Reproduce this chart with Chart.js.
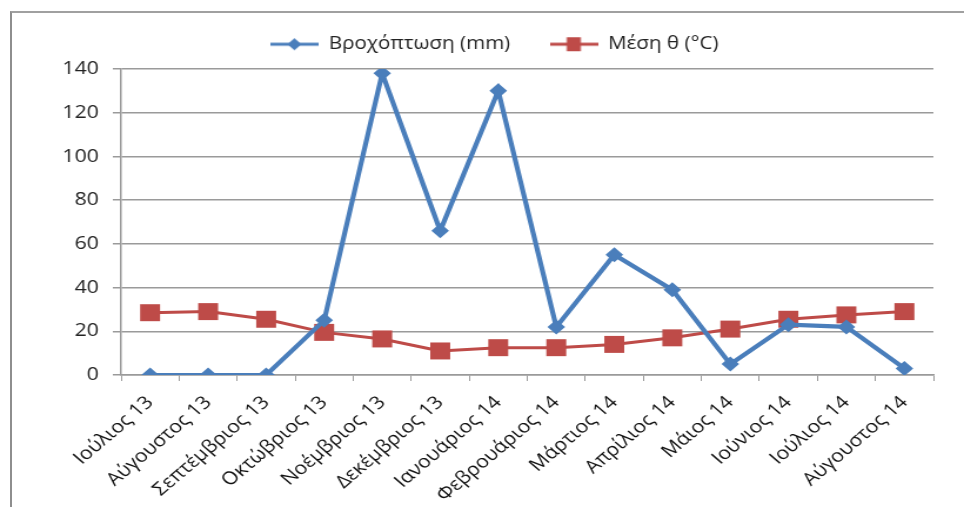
<!DOCTYPE html>
<html>
<head>
<meta charset="utf-8">
<script src="https://cdn.jsdelivr.net/npm/chart.js@4.4.1/dist/chart.umd.min.js"></script>
<style>
  html, body { margin: 0; padding: 0; background: #fff; overflow: hidden; }
  #wrap { position: relative; width: 964px; height: 507px; overflow: hidden; }
  #frame { position: absolute; left: 10px; top: 11px; width: 970px; height: 520px;
           border-left: 2px solid #8e8e8e; border-top: 2px solid #a0a0a0; }
  /* the original picture is stretched sideways, so the canvas is too */
  #stretch { position: absolute; left: 0; top: 0; width: 820px; height: 507px;
             transform: scaleX(1.1756); transform-origin: 0 0; }
</style>
</head>
<body>
<div id="wrap">
  <div id="frame"></div>
  <div id="stretch"><canvas id="chart" width="820" height="507"></canvas></div>
</div>
<script>
// Μήνες (κατηγορίες)
const months = ['Ιούλιος 13', 'Αύγουστος 13', 'Σεπτέμβριος 13', 'Οκτώβριος 13', 'Νοέμβριος 13',
  'Δεκέμβριος 13', 'Ιανουάριος 14', 'Φεβρουάριος 14', 'Μάρτιος 14', 'Απρίλιος 14',
  'Μάιος 14', 'Ιούνιος 14', 'Ιούλιος 14', 'Αύγουστος 14'];

// Βροχόπτωση (mm)
const rain = [0, 0, 0, 25, 138, 66, 130, 22, 55, 39, 5, 23, 22, 3];

// Μέση θερμοκρασία (°C)
const temp = [28.5, 29, 25.5, 19.5, 16.5, 11, 12.5, 12.5, 14, 17, 21, 25.5, 27.5, 29];

// άξονας y
const yTicks = [0, 20, 40, 60, 80, 100, 120, 140];

const blue = '#4a7ebb';
const red = '#be4b48';
const font = "'Open Sans', 'DejaVu Sans', sans-serif";

// μικρό εικονίδιο υπομνήματος: γραμμή με σημάδι στη μέση
function legendIcon(color, shape) {
    const c = document.createElement('canvas');
    c.width = 41; c.height = 16;
    const g = c.getContext('2d');
    g.strokeStyle = color;
    g.lineWidth = 3;
    g.beginPath(); g.moveTo(0, 8); g.lineTo(41, 8); g.stroke();
    g.fillStyle = color;
    g.beginPath();
    if (shape === 'diamond') {
        g.moveTo(20.5, 2); g.lineTo(26.5, 8); g.lineTo(20.5, 14); g.lineTo(14.5, 8);
    } else {
        g.rect(14.5, 1, 12, 14);
    }
    g.closePath(); g.fill();
    return c;
}
const icons = [legendIcon(blue, 'diamond'), legendIcon(red, 'square')];

// λίγος χώρος κάτω από το υπόμνημα
const legendGap = {
    id: 'legendGap',
    beforeLayout(chart) {
        const lg = chart.legend;
        if (lg && !lg._gapDone) {
            const fit = lg.fit;
            lg.fit = function() { fit.call(this); this.height += 6; };
            lg._gapDone = true;
        }
    }
};

new Chart(document.getElementById('chart'), {
    type: 'line',
    data: {
        labels: months,
        datasets: [
            {
                label: 'Βροχόπτωση (mm)',
                data: rain,
                borderColor: blue,
                backgroundColor: blue,
                borderWidth: 4.2,
                pointStyle: 'rectRot',
                pointRadius: 7.5,
                pointHoverRadius: 7.5,
                pointBorderWidth: 0,
                tension: 0
            },
            {
                label: 'Μέση θ (°C)',
                data: temp,
                borderColor: red,
                backgroundColor: red,
                borderWidth: 3,
                pointStyle: 'rect',
                pointRadius: 12,
                pointHoverRadius: 12,
                pointBorderWidth: 0,
                tension: 0
            }
        ]
    },
    plugins: [legendGap],
    options: {
        responsive: false,
        animation: false,
        layout: { padding: { top: 19.5, right: 26, left: 47, bottom: 0 } },
        plugins: {
            tooltip: { enabled: false },
            legend: {
                position: 'top',
                labels: {
                    usePointStyle: true,
                    pointStyleWidth: 41,
                    padding: 16,
                    color: '#222',
                    font: { family: font, size: 17.5 },
                    generateLabels: function(chart) {
                        const items = Chart.defaults.plugins.legend.labels.generateLabels(chart);
                        items.forEach((it, i) => {
                            it.pointStyle = icons[i];
                            if (i === 0) it.text += '\u2003'; // λίγο πιο μεγάλο κενό ανάμεσα
                        });
                        return items;
                    }
                }
            }
        },
        scales: {
            x: {
                offset: true,
                grid: {
                    offset: true,
                    drawOnChartArea: false,
                    drawTicks: true,
                    tickLength: 6,
                    color: '#9a9a9a'
                },
                border: { color: '#9a9a9a', width: 1.5 },
                ticks: {
                    autoSkip: false,
                    maxRotation: 45,
                    minRotation: 45,
                    padding: 11,
                    color: '#111',
                    font: { family: font, size: 18 }
                },
                afterFit: function(scale) { scale.height = 132; }
            },
            y: {
                min: 0,
                max: 140,
                afterBuildTicks: function(scale) { scale.ticks = yTicks.map(v => ({ value: v })); },
                grid: {
                    color: '#9a9a9a',
                    lineWidth: 1.5,
                    drawTicks: true,
                    tickLength: 7
                },
                border: { color: '#9a9a9a', width: 1.5 },
                ticks: {
                    padding: 12,
                    color: '#222',
                    font: { family: font, size: 18 }
                },
                afterFit: function(scale) { scale.width = 56; }
            }
        }
    }
});
</script>
</body>
</html>
